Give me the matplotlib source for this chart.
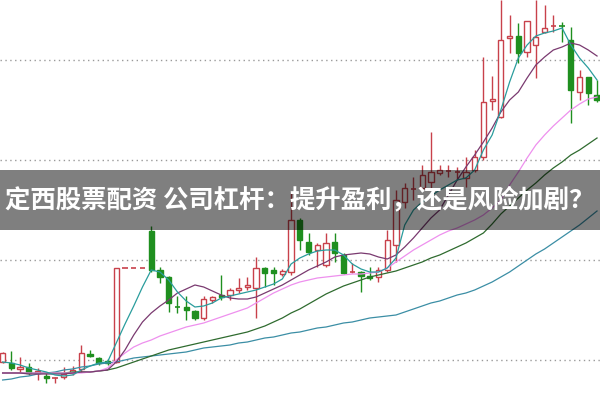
import matplotlib.pyplot as plt
from matplotlib.patches import Rectangle

plt.rcParams['font.family'] = ['Noto Sans CJK SC', 'DejaVu Sans']

# K线数据 (开, 收, 高, 低)
opens = [3.98, 3.97, 3.91, 3.93, 3.87, 3.84, 3.815, 3.83, 3.87, 3.91,
         4.06, 4.02, 3.99, 3.98, 4.92, 4.92, 4.92, 5.29, 4.90, 4.83,
         4.54, 4.53, 4.49, 4.42, 4.60, 4.65, 4.65, 4.70, 4.73, 4.72,
         4.92, 4.90, 4.86, 4.88, 5.40, 5.18, 5.10, 4.95, 5.18, 5.05,
         4.87, 4.88, 4.84, 4.83, 4.90, 5.15, 5.58, 5.71, 5.72, 5.78,
         5.87, 5.885, 5.875, 5.82, 5.90, 6.03, 6.59, 6.43, 7.22, 7.24,
         7.08, 7.15, 7.28, 7.335, 7.345, 7.20, 6.68, 6.83, 6.65]
closes = [4.07, 3.92, 3.93, 3.87, 3.89, 3.82, 3.825, 3.86, 3.90, 4.07,
          4.04, 3.97, 3.97, 4.92, 4.92, 4.92, 4.92, 4.90, 4.83, 4.57,
          4.525, 4.50, 4.42, 4.61, 4.63, 4.63, 4.70, 4.72, 4.75, 4.92,
          4.87, 4.87, 4.89, 5.40, 5.20, 5.08, 5.15, 5.17, 5.07, 4.87,
          4.885, 4.84, 4.82, 4.90, 5.20, 5.60, 5.72, 5.72, 5.85, 5.88,
          5.90, 5.895, 5.885, 5.88, 6.03, 6.58, 6.605, 7.20, 7.24, 7.07,
          7.39, 7.23, 7.32, 7.345, 7.335, 6.70, 6.83, 6.67, 6.60]
highs = [4.08, 4.09, 4.03, 3.97, 3.92, 3.87, 3.83, 3.93, 3.94, 4.15,
         4.10, 4.03, 4.01, 4.92, 4.92, 4.92, 4.92, 5.34, 4.93, 4.84,
         4.64, 4.64, 4.50, 4.64, 4.64, 4.85, 4.72, 4.82, 4.83, 5.03,
         4.93, 4.93, 4.91, 5.68, 5.42, 5.27, 5.17, 5.27, 5.27, 5.07,
         4.97, 4.89, 4.93, 4.93, 5.30, 5.70, 5.77, 5.83, 5.95, 6.28,
         5.95, 5.95, 5.93, 6.03, 6.10, 7.03, 6.84, 7.60, 7.45, 7.37,
         7.39, 7.60, 7.55, 7.45, 7.38, 7.33, 6.90, 6.83, 6.80]
lows = [3.97, 3.90, 3.88, 3.85, 3.80, 3.77, 3.77, 3.81, 3.85, 3.88,
        4.03, 3.95, 3.95, 3.97, 4.92, 4.92, 4.92, 4.88, 4.77, 4.48,
        4.47, 4.40, 4.40, 4.40, 4.57, 4.60, 4.60, 4.67, 4.70, 4.42,
        4.73, 4.75, 4.84, 4.85, 5.10, 5.05, 4.93, 4.93, 4.98, 4.86,
        4.865, 4.68, 4.80, 4.78, 4.88, 4.98, 5.52, 5.60, 5.70, 5.70,
        5.85, 5.83, 5.80, 5.73, 5.88, 6.00, 6.50, 6.42, 7.07, 6.97,
        7.03, 6.82, 7.27, 7.28, 7.18, 6.37, 6.60, 6.55, 6.58]

# 均线
ma5 = [3.98, 3.97, 3.95, 3.92, 3.90, 3.88, 3.85, 3.84, 3.85, 3.90,
       3.94, 3.97, 3.98, 4.17, 4.36, 4.54, 4.73, 4.90, 4.88, 4.80,
       4.68, 4.59, 4.53, 4.54, 4.57, 4.62, 4.64, 4.66, 4.68, 4.70,
       4.73, 4.76, 4.81, 4.96, 5.02, 5.06, 5.09, 5.10, 5.10, 5.05,
       4.96, 4.91, 4.88, 4.88, 4.92, 5.02, 5.35, 5.50, 5.58, 5.64,
       5.70, 5.75, 5.80, 5.82, 5.90, 6.10, 6.25, 6.50, 6.78, 7.02,
       7.15, 7.24, 7.27, 7.29, 7.32, 7.15, 7.02, 6.92, 6.80]
ma10 = [3.87, 3.87, 3.87, 3.86, 3.86, 3.86, 3.86, 3.86, 3.87, 3.88,
        3.88, 3.89, 3.90, 3.98, 4.10, 4.25, 4.38, 4.47, 4.54, 4.60,
        4.67, 4.71, 4.75, 4.73, 4.69, 4.65, 4.62, 4.61, 4.61, 4.63,
        4.67, 4.71, 4.75, 4.80, 4.85, 4.90, 4.94, 4.98, 5.03, 5.05,
        5.06, 5.07, 5.06, 5.03, 5.01, 5.05, 5.13, 5.22, 5.32, 5.42,
        5.50, 5.65, 5.80, 5.93, 6.05, 6.18, 6.32, 6.48, 6.60, 6.68,
        6.82, 6.95, 7.03, 7.10, 7.13, 7.17, 7.15, 7.10, 7.04]
ma20 = [3.87, 3.87, 3.87, 3.87, 3.87, 3.87, 3.87, 3.87, 3.87, 3.87,
        3.88, 3.89, 3.92, 4.00, 4.07, 4.13, 4.17, 4.20, 4.24, 4.27,
        4.30, 4.33, 4.35, 4.37, 4.40, 4.43, 4.46, 4.49, 4.52, 4.57,
        4.62, 4.67, 4.71, 4.75, 4.78, 4.80, 4.82, 4.83, 4.84, 4.85,
        4.86, 4.86, 4.87, 4.88, 4.92, 4.98, 5.04, 5.10, 5.15, 5.20,
        5.25, 5.29, 5.32, 5.36, 5.40, 5.45, 5.52, 5.60, 5.75, 5.88,
        6.02, 6.15, 6.25, 6.34, 6.42, 6.50, 6.56, 6.61, 6.63]
ma60 = [3.87, 3.87, 3.87, 3.87, 3.87, 3.87, 3.87, 3.87, 3.88, 3.88,
        3.88, 3.89, 3.90, 3.92, 3.95, 3.98, 4.01, 4.04, 4.07, 4.10,
        4.12, 4.14, 4.16, 4.18, 4.20, 4.22, 4.24, 4.26, 4.28, 4.31,
        4.34, 4.38, 4.42, 4.47, 4.51, 4.56, 4.61, 4.66, 4.70, 4.74,
        4.77, 4.80, 4.83, 4.85, 4.87, 4.89, 4.92, 4.95, 4.98, 5.02,
        5.05, 5.09, 5.13, 5.17, 5.22, 5.27, 5.36, 5.46, 5.54, 5.62,
        5.70, 5.77, 5.85, 5.92, 5.98, 6.05, 6.10, 6.16, 6.22]
ma120 = [3.80, 3.81, 3.83, 3.84, 3.86, 3.87, 3.88, 3.90, 3.91, 3.93,
         3.94, 3.96, 3.97, 3.98, 4.00, 4.02, 4.03, 4.04, 4.05, 4.06,
         4.07, 4.08, 4.10, 4.12, 4.13, 4.14, 4.15, 4.17, 4.18, 4.20,
         4.22, 4.23, 4.25, 4.27, 4.28, 4.30, 4.32, 4.33, 4.35, 4.37,
         4.38, 4.40, 4.42, 4.43, 4.44, 4.45, 4.48, 4.51, 4.54, 4.57,
         4.59, 4.62, 4.65, 4.67, 4.70, 4.74, 4.78, 4.83, 4.88, 4.94,
         5.00, 5.06, 5.11, 5.17, 5.23, 5.29, 5.35, 5.42, 5.49]

grid_levels = [4.0, 5.0, 6.0, 7.0]
title = '定西股票配资 公司杠杆：提升盈利，还是风险加剧？'

red = '#c8414b'
green = '#1f8f1f'
w = 0.6

fig = plt.figure(figsize=(6, 4), dpi=100)
ax = fig.add_axes([0, 0, 1, 1])

for g in grid_levels:
    ax.axhline(g, color='#9a9a9a', lw=1, ls=(0, (1, 2.5)), zorder=0)

for i in range(len(opens)):
    o, c, h, l = opens[i], closes[i], highs[i], lows[i]
    col = red if c >= o else green
    ax.vlines(i, l, h, color=col, lw=1, zorder=2)
    if abs(c - o) < 0.015:
        ax.hlines((o + c) / 2, i - w / 2, i + w / 2, color=col, lw=1.2, zorder=3)
    elif c > o:
        ax.add_patch(Rectangle((i - w / 2, o), w, c - o, facecolor='white',
                               edgecolor=col, lw=1, zorder=3))
    else:
        ax.add_patch(Rectangle((i - w / 2, c), w, o - c, facecolor=col,
                               edgecolor=col, lw=1, zorder=3))

x = range(len(opens))
ax.plot(x, ma120, color='#3b8ea5', lw=0.9, zorder=4)
ax.plot(x, ma60, color='#2f6b2f', lw=0.9, zorder=4)
ax.plot(x, ma20, color='#ee90ee', lw=0.9, zorder=4)
ax.plot(x, ma10, color='#7a3a70', lw=0.9, zorder=4)
ax.plot(x, ma5, color='#2a9d9d', lw=0.9, zorder=4)

ax.set_xlim(-0.3, len(opens) - 0.66)
ax.set_ylim(3.6, 7.6)
ax.axis('off')

# 标题横幅
fig.add_artist(Rectangle((0, 0.425), 1, 0.15, transform=fig.transFigure,
                         facecolor='black', alpha=0.5, edgecolor='none', zorder=10))
fig.text(0.5, 0.5, title, ha='center', va='center', color='white',
         fontsize=18.3, fontweight='bold', zorder=11)

plt.savefig('out.png', dpi=100)
